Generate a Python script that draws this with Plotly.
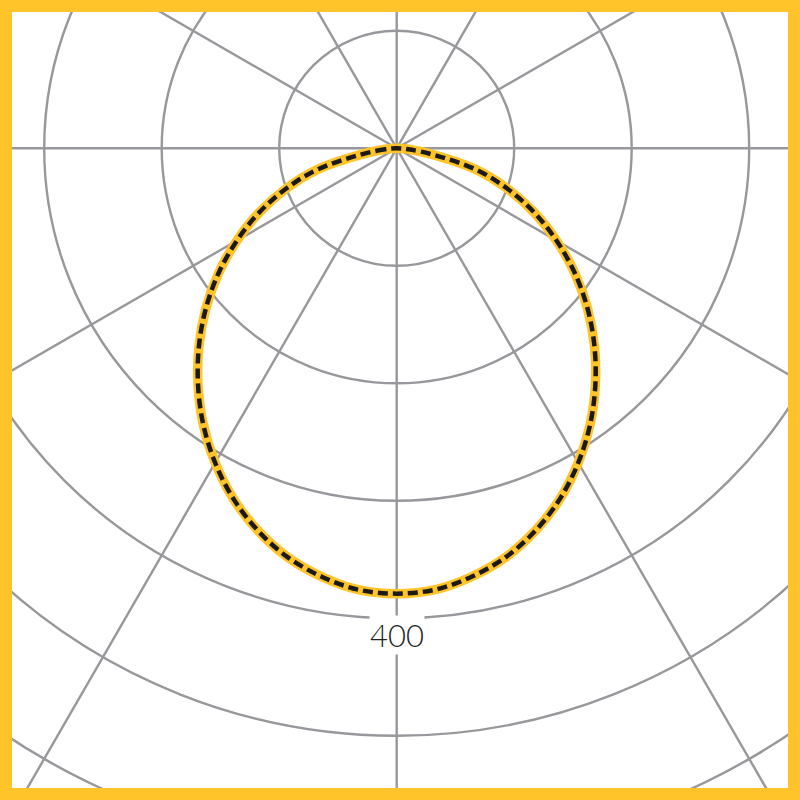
import numpy as np
import plotly.graph_objects as go

# polar luminous intensity diagram (cd), 0 deg = straight down
gamma_deg = [0, 5, 10, 15, 20, 25, 30, 35, 40, 45, 50, 55, 60, 65, 70, 75, 80, 85, 90]
c0_cd = [379, 377, 370, 360, 346, 329, 309, 287, 263, 238, 212, 185, 157, 129, 100, 70, 32, 10, 0]
c180_cd = [379, 377, 370, 360, 346, 329, 309, 287, 263, 238, 212, 185, 157, 129, 100, 70, 32, 10, 0]

ring_values = [100, 200, 300, 400, 500, 600, 700]
spoke_angles = [0, 30, 60, 90, 120, 150, 180, 210, 240, 270, 300, 330]
ring_label = "400"

GRID = "#98989c"
YELLOW = "#FFC42A"
PX_PER_CD = 1.175
CX, CY = 396.7, 148.3  # centre of diagram in pixels


def to_xy(angles, values):
    a = np.radians(angles)
    v = np.asarray(values, dtype=float)
    return v * np.sin(a), -v * np.cos(a)


# C180 side on the left, C0 side on the right
xl, yl = to_xy(gamma_deg, c180_cd)
xr, yr = to_xy(gamma_deg, c0_cd)
x_curve = np.concatenate([-xl[::-1], xr[1:]])
y_curve = np.concatenate([yl[::-1], yr[1:]])

fig = go.Figure()

fig.add_trace(go.Scatter(x=x_curve, y=y_curve, mode="lines",
                         line=dict(color=YELLOW, width=9.5, shape="spline"),
                         hoverinfo="skip", showlegend=False))
fig.add_trace(go.Scatter(x=x_curve, y=y_curve, mode="lines",
                         line=dict(color="#1c1a17", width=4.5, dash="10px,5px", shape="spline"),
                         hoverinfo="skip", showlegend=False))

shapes = []
for r in ring_values:
    shapes.append(dict(type="circle", xref="x", yref="y", x0=-r, x1=r, y0=-r, y1=r,
                       line=dict(color=GRID, width=2.4), layer="below"))
for ang in spoke_angles:
    a = np.radians(ang)
    shapes.append(dict(type="line", xref="x", yref="y", x0=0, y0=0,
                       x1=900 * np.sin(a), y1=-900 * np.cos(a),
                       line=dict(color=GRID, width=2.4), layer="below"))
# yellow frame
b = 6 / 800
shapes.append(dict(type="rect", xref="paper", yref="paper",
                   x0=b, x1=1 - b, y0=b, y1=1 - b,
                   line=dict(color=YELLOW, width=12), layer="above"))

fig.add_annotation(x=0, y=-414, xref="x", yref="y", text=ring_label, showarrow=False,
                   font=dict(family="Lato", size=31, color="#222222", weight=300),
                   bgcolor="white", borderpad=0, xanchor="center", yanchor="middle")

fig.update_layout(
    width=800, height=800,
    margin=dict(l=0, r=0, t=0, b=0),
    paper_bgcolor="white", plot_bgcolor="white",
    shapes=shapes,
    xaxis=dict(range=[-CX / PX_PER_CD, (800 - CX) / PX_PER_CD], visible=False, fixedrange=True),
    yaxis=dict(range=[-(800 - CY) / PX_PER_CD, CY / PX_PER_CD], visible=False, fixedrange=True),
    showlegend=False,
)

fig.write_html("out.html", config={"displayModeBar": False},
               post_script="document.body.style.margin = '0px';")
